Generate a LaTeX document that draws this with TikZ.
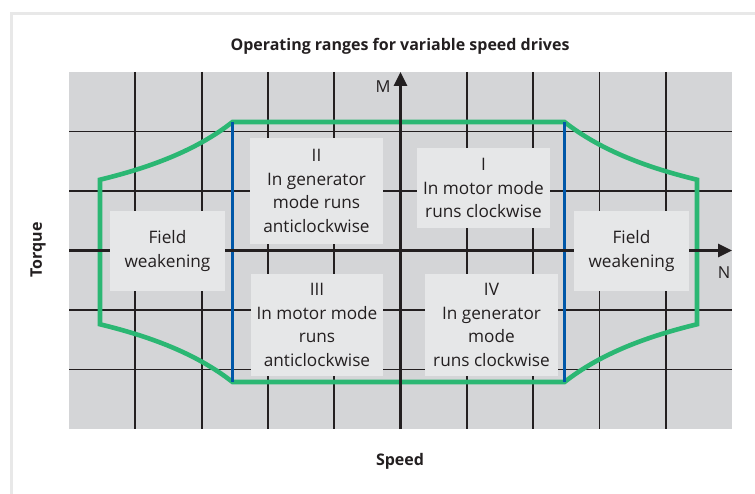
\documentclass[tikz,border=0pt]{standalone}
\usepackage{fontspec}
\setmainfont{Open Sans}
\usetikzlibrary{arrows.meta, positioning}
\definecolor{gridgray}{RGB}{212,213,215}
\definecolor{boxgray}{RGB}{230,231,232}
\definecolor{framegray}{RGB}{232,232,232}
\definecolor{envgreen}{RGB}{43,183,115}
\definecolor{limitblue}{RGB}{0,87,168}
\definecolor{ink}{RGB}{35,31,32}

\begin{document}
\begin{tikzpicture}[
        x=1pt, y=-1pt,
        label/.style={text=ink, font=\fontsize{16}{19}\selectfont\bfseries},
        region/.style={rectangle, fill=boxgray, text=ink, align=center, inner sep=0pt, font=\fontsize{17.2}{23.5}\selectfont},
        axislbl/.style={text=ink, font=\fontsize{16.5}{19}\selectfont},
        gridline/.style={ink, line width=1.8pt},
        axis/.style={-{Stealth[length=14pt, width=13pt, inset=0pt]}, ink, line width=2.6pt},
        envelope/.style={envgreen, line width=4.6pt, line join=miter},
        limit/.style={limitblue, line width=2.4pt}
    ]
        \useasboundingbox (0,0) rectangle (755,494);
        % frame and chart background
        \draw[framegray, line width=3pt] (11.5,494) -- (11.5,13.5) -- (755,13.5);
        \fill[gridgray] (69,72) rectangle (732,429);
        \foreach \i in {1,2,3,4,6,7,8,9}
            \draw[gridline] ({69+\i*66.3},72) -- ({69+\i*66.3},429);
        \foreach \j in {1,2,4,5}
            \draw[gridline] (69,{72+\j*59.5}) -- (732,{72+\j*59.5});

        % operating envelope
        \draw[envelope] (232.5,122) -- (564.5,122)
            -- plot[domain=166:298.5, samples=40] ({398.5+\x},{252-130*(166/\x)})
            -- plot[domain=298.5:166, samples=40] ({398.5+\x},{252+130*(166/\x)})
            -- plot[domain=166:298.5, samples=40] ({398.5-\x},{252+130*(166/\x)})
            -- plot[domain=298.5:166, samples=40] ({398.5-\x},{252-130*(166/\x)})
            -- cycle;
        \draw[limit] (232.5,122) -- (232.5,382);
        \draw[limit] (564.5,122) -- (564.5,382);

        % axes
        \coordinate (origin) at (400.5,250.5);
        \coordinate (nend) at (732,250.5);
        \coordinate (mend) at (400.5,72);
        \draw[axis] (69,250.5) -- (nend);
        \draw[axis] (400.5,429) -- (mend);
        \node[axislbl] (lblM) at (383,87) {M};
        \node[axislbl] (lblN) at (724,273) {N};

        % regions
        \node[region, minimum width=133pt, minimum height=106pt] (quadII) at (316.5,191) {II\\In generator\\mode runs\\anticlockwise};
        \node[region, minimum width=133pt, minimum height=80pt] (quadI) at (483.5,188) {I\\In motor mode\\runs clockwise};
        \node[region, minimum width=132pt, minimum height=102pt] (quadIII) at (317,325) {III\\In motor mode\\runs\\anticlockwise};
        \node[region, minimum width=133pt, minimum height=102pt] (quadIV) at (491.5,325) {IV\\In generator\\mode\\runs clockwise};
        \node[region, minimum width=115pt, minimum height=80pt] (fieldL) at (167.5,251) {Field\\weakening};
        \node[region, minimum width=115pt, minimum height=80pt] (fieldR) at (631.5,251) {Field\\weakening};

        % titles
        \node[label] (title) at (400,46) {Operating ranges for variable speed drives};
        \node[label, rotate=90] (torque) at (38,250) {Torque};
        \node[label] (speed) at (400,461) {Speed};
    \end{tikzpicture}
\end{document}
